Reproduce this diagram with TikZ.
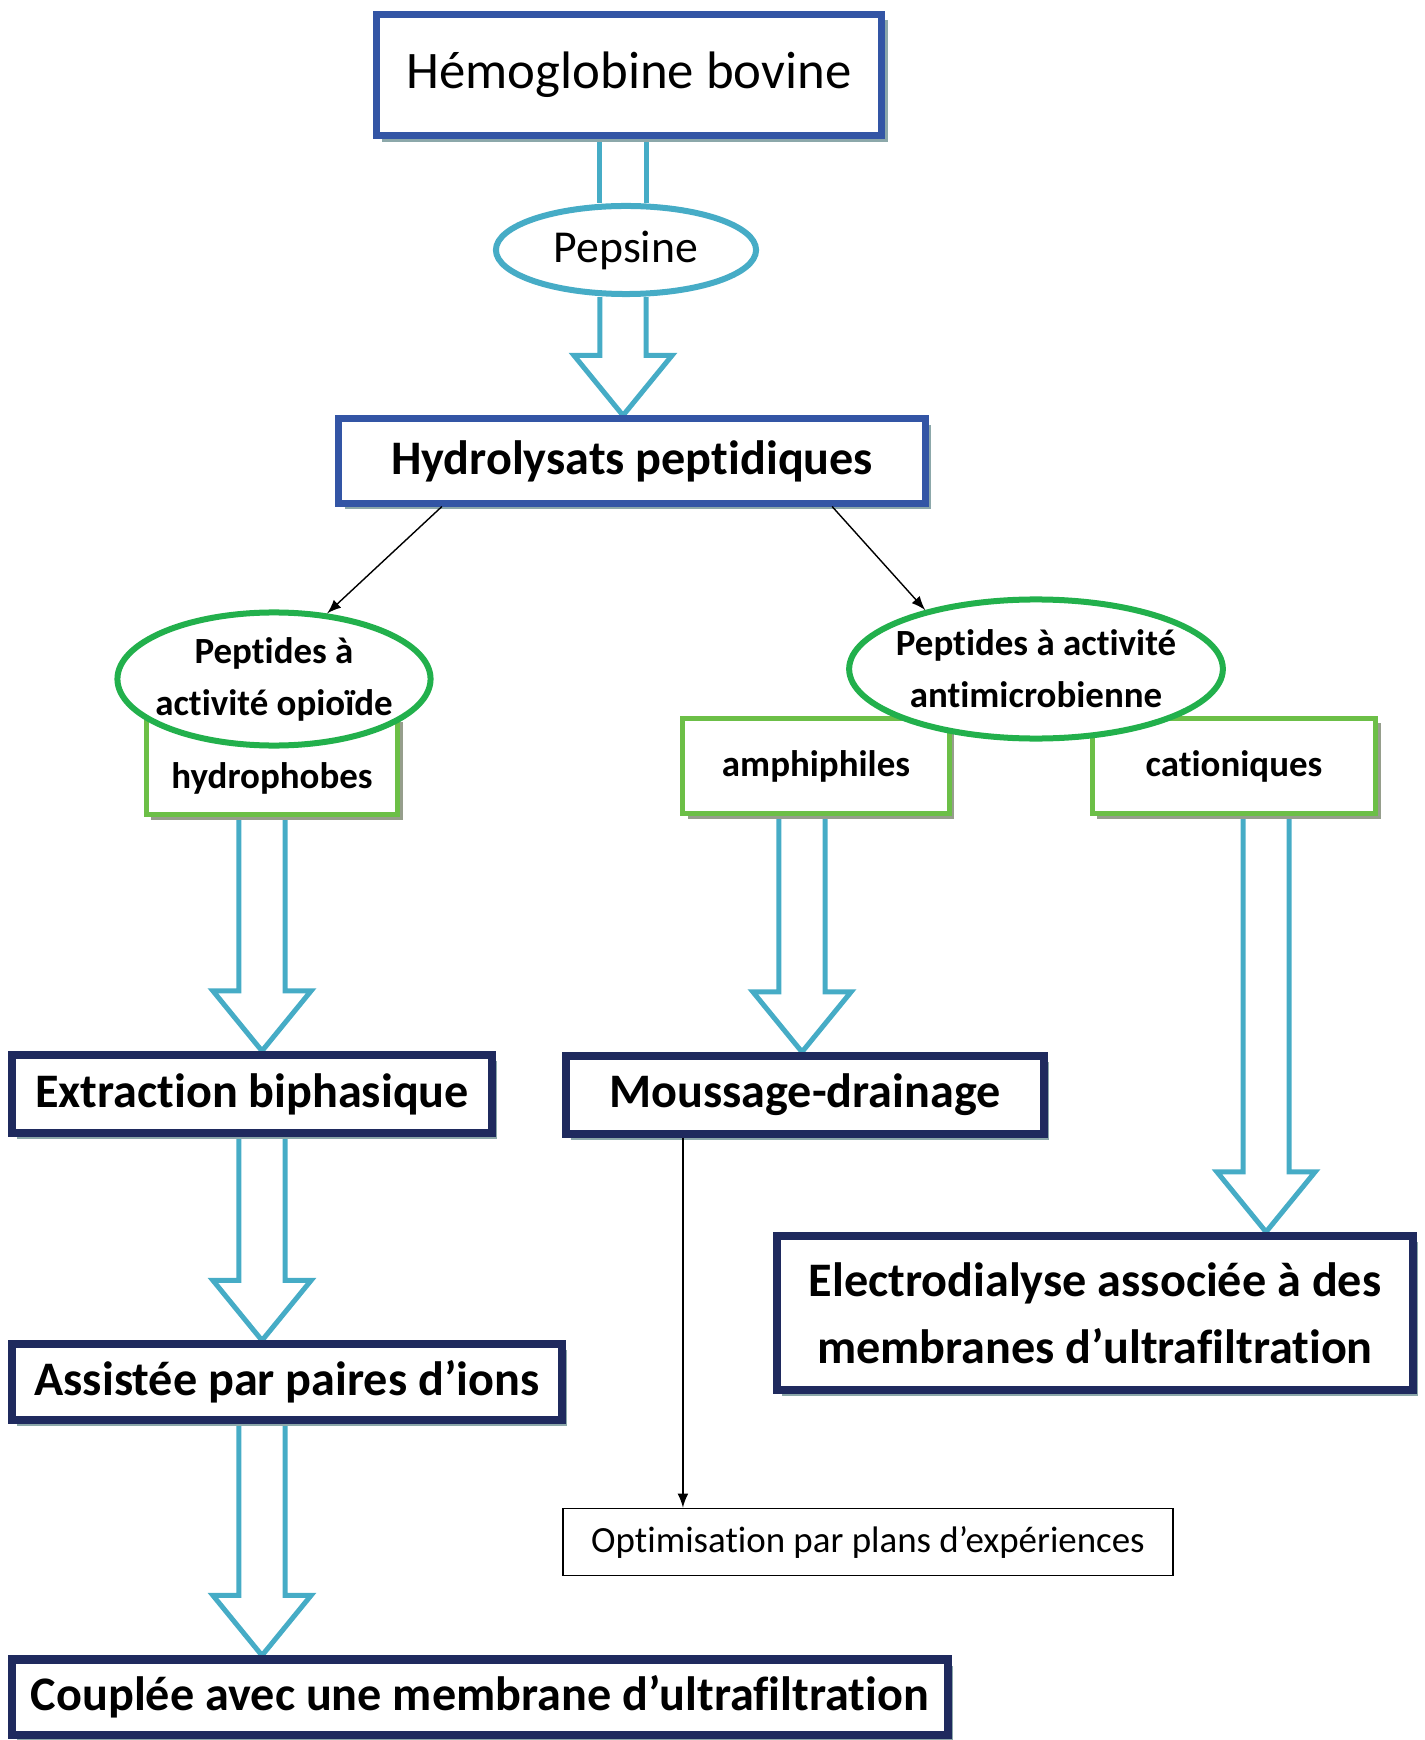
\documentclass[tikz,border=0pt]{standalone}
\usepackage{fontspec}
\setmainfont{Carlito}[Ligatures={NoCommon,NoRequired,NoContextual},Contextuals=NoAlternate,RawFeature={-liga,-clig,-calt}]
\usetikzlibrary{shapes.geometric,shadows,calc}
\pgfdeclarelayer{fond}
\pgfsetlayers{fond,main}

\definecolor{bleu}{RGB}{51,85,165}
\definecolor{marine}{RGB}{31,42,94}
\definecolor{turquoise}{RGB}{70,172,198}
\definecolor{vert}{RGB}{34,176,76}
\definecolor{vertclair}{RGB}{108,191,71}
\definecolor{ombre}{RGB}{140,168,170}
\definecolor{ombreverte}{RGB}{150,158,140}

\newcommand\gras{\fontsize{13.7}{19}\selectfont\bfseries}
\newcommand\petitgras{\fontsize{10.5}{14.8}\selectfont\bfseries}

\tikzset{
  boiteB/.style={draw=bleu,line width=0.07cm,fill=white,general shadow={fill=ombre,shadow xshift=0.06cm,shadow yshift=-0.06cm}},
  boiteM/.style={draw=marine,line width=0.08cm,fill=white,font=\gras,general shadow={fill=ombre,shadow xshift=0.05cm,shadow yshift=-0.06cm}},
  boiteV/.style={draw=vertclair,line width=0.05cm,fill=white,font=\petitgras,general shadow={fill=ombreverte,shadow xshift=0.05cm,shadow yshift=-0.05cm}},
  bulle/.style={ellipse,draw=vert,line width=0.06cm,fill=white,inner xsep=-0.08cm,inner ysep=0pt,align=center,font=\petitgras},
  tube/.style={draw=turquoise,line width=0.05cm,line join=miter}
}

% tuyau simple et grosse fleche creuse
\newcommand\tuyau[2]{\draw[tube] let \p1=(#1), \p2=(#2) in (\x1-0.23cm,\y1)--(\x1-0.23cm,\y2) (\x1+0.23cm,\y1)--(\x1+0.23cm,\y2);}
\newcommand\fleche[2]{\draw[tube] let \p1=(#1), \p2=(#2) in (\x1-0.23cm,\y1)--(\x1-0.23cm,\y2+0.6cm)--(\x1-0.49cm,\y2+0.6cm)--(\x1,\y2)--(\x1+0.49cm,\y2+0.6cm)--(\x1+0.23cm,\y2+0.6cm)--(\x1+0.23cm,\y1);}

\begin{document}
\begin{tikzpicture}[x=0.01cm,y=-0.01cm]
\useasboundingbox (0,0) rectangle (1424,1740);
% Hydrolyse
\node[boiteB,minimum width=5.05cm,minimum height=1.21cm,font=\fontsize{15}{18}\selectfont] (hemo) at (629,75) {Hémoglobine bovine};
\node[ellipse,draw=turquoise,line width=0.06cm,fill=white,inner sep=0pt,minimum width=2.6cm,minimum height=0.88cm,font=\fontsize{13}{16}\selectfont] (pepsine) at (626,250) {Pepsine};
\node[boiteB,minimum width=5.86cm,minimum height=0.84cm,font=\gras] (hydrol) at (632,461) {Hydrolysats peptidiques};
% Familles de peptides
\node[boiteV,minimum width=2.51cm,minimum height=0.97cm,text height=0.52cm,text depth=0.08cm] (hydro) at (272,766) {hydrophobes};
\node[boiteV,minimum width=2.66cm,minimum height=0.95cm] (amph) at (816,766) {amphiphiles};
\node[boiteV,minimum width=2.83cm,minimum height=0.95cm] (cation) at (1234,766) {cationiques};
\node[bulle,minimum width=3.11cm,minimum height=1.33cm] (opio) at (274,679) {Peptides à\\activité opioïde};
\node[bulle,minimum width=3.69cm,minimum height=1.39cm] (anti) at (1036,669) {Peptides à activité\\antimicrobienne};
% Procedes
\node[boiteM,minimum width=4.79cm,minimum height=0.78cm] (extr) at (252,1094) {Extraction biphasique};
\node[boiteM,minimum width=4.78cm,minimum height=0.78cm] (mouss) at (805,1095) {Moussage-drainage};
\node[boiteM,minimum width=6.35cm,minimum height=1.54cm,align=center] (electro) at (1095,1313) {Electrodialyse associée à des\\membranes d’ultrafiltration};
\node[boiteM,minimum width=5.49cm,minimum height=0.75cm] (assist) at (287,1382) {Assistée par paires d’ions};
\node[boiteM,minimum width=9.35cm,minimum height=0.75cm] (coupl) at (480,1697) {Couplée avec une membrane d’ultrafiltration};
\node[draw,line width=0.015cm,minimum width=6.1cm,minimum height=0.67cm,font=\fontsize{10.5}{13}\selectfont] (optim) at (868,1542) {Optimisation par plans d’expériences};
% Fleches
\begin{pgfonlayer}{fond}
\tuyau{[xshift=-0.6mm]hemo.south}{pepsine.north}
\fleche{[xshift=-0.3mm]pepsine.south}{hydrol.north}
\fleche{[xshift=-1mm]hydro.south}{extr.north}
\fleche{[xshift=1mm]extr.south}{assist.north}
\fleche{[xshift=-2.5mm]assist.south}{coupl.north}
\fleche{[xshift=-1.4mm]amph.south}{mouss.north}
\fleche{[xshift=3.2mm]cation.south}{electro.north}
\end{pgfonlayer}
\draw[-latex] ([xshift=-1.9cm]hydrol.south)--(opio.51);
\draw[-latex] ([xshift=2cm]hydrol.south)--(anti.152);
\draw[-latex] ([xshift=-1.22cm]mouss.south) coordinate (m)--(m |- optim.north);
\end{tikzpicture}
\end{document}
